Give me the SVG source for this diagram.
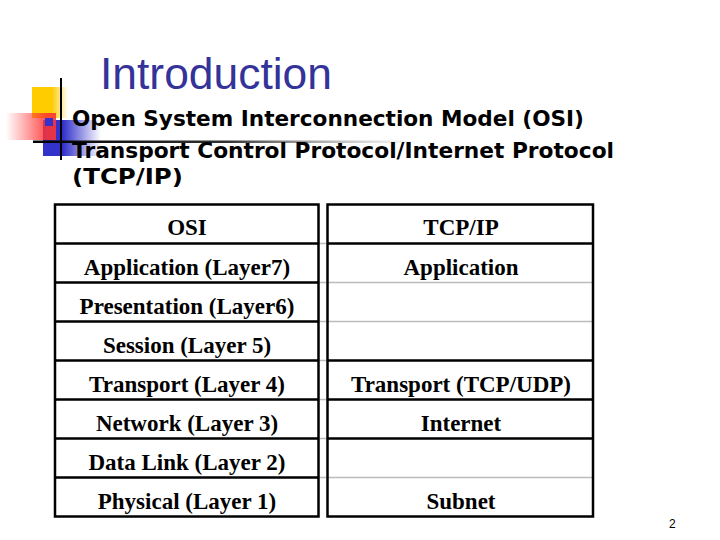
<svg xmlns="http://www.w3.org/2000/svg" width="720" height="540" viewBox="0 0 720 540">
<defs>
<linearGradient id="gYel" x1="0" y1="0" x2="1" y2="0"><stop offset="0" stop-color="#FFCC00"/><stop offset="0.55" stop-color="#FFCC00"/><stop offset="1" stop-color="#FFCC00" stop-opacity="0"/></linearGradient>
<linearGradient id="gBlue" x1="0" y1="0" x2="1" y2="0"><stop offset="0" stop-color="#3333CC"/><stop offset="0.35" stop-color="#3333CC"/><stop offset="1" stop-color="#3333CC" stop-opacity="0"/></linearGradient>
<linearGradient id="gRed" x1="0" y1="0" x2="1" y2="0"><stop offset="0" stop-color="#FF3333" stop-opacity="0"/><stop offset="0.8" stop-color="#FF3333" stop-opacity="0.85"/><stop offset="1" stop-color="#FF3333" stop-opacity="0.9"/></linearGradient>
<linearGradient id="gLine" x1="0" y1="0" x2="1" y2="0"><stop offset="0" stop-color="#000"/><stop offset="0.5" stop-color="#333"/><stop offset="1" stop-color="#999" stop-opacity="0"/></linearGradient>
<style>
.title{font-family:"Liberation Sans",Arial,sans-serif;font-size:45px;fill:#333399}
.bul{font-family:"DejaVu Sans",Verdana,sans-serif;font-weight:bold;font-size:21px;fill:#000}
.cell{font-family:"Liberation Serif","Times New Roman",serif;font-weight:bold;font-size:23px;fill:#000;text-anchor:middle}
.thick{stroke:#000;stroke-width:2.5;fill:none}
.thin{stroke:#bbb;stroke-width:1.5;fill:none}
.pg{font-family:"Liberation Sans",Arial,sans-serif;font-size:12px;fill:#000}
</style>
</defs>
<rect width="720" height="540" fill="#fff"/>
<g id="decoration">
<rect x="32" y="87" width="36" height="31" fill="url(#gYel)"/>
<rect x="43" y="120" width="58" height="36" fill="url(#gBlue)"/>
<rect x="6" y="113" width="50" height="27" fill="url(#gRed)"/>
<rect x="45" y="118" width="8" height="8" fill="#3333CC"/>
<line x1="61" y1="78" x2="61" y2="160" stroke="#000" stroke-width="2"/>
<rect x="33" y="140.5" width="390" height="2.5" fill="url(#gLine)"/>
</g>
<g id="title"><text class="title" x="100" y="89" textLength="232" lengthAdjust="spacingAndGlyphs">Introduction</text></g>
<g id="bullets">
<text class="bul" x="72" y="126" textLength="512" lengthAdjust="spacingAndGlyphs">Open System Interconnection Model (OSI)</text>
<text class="bul" x="72" y="157.5" textLength="542" lengthAdjust="spacingAndGlyphs">Transport Control Protocol/Internet Protocol</text>
<text class="bul" x="72" y="184" textLength="111" lengthAdjust="spacingAndGlyphs">(TCP/IP)</text>
</g>
<g id="osi-table">
<path class="thin" d="M319 243.5H326M319 282.5H326M319 321.5H326M319 360.5H326M319 399.5H326M319 438.5H326M319 477.5H326"/>
<rect class="thick" x="55" y="204.5" width="263.5" height="312"/>
<path class="thick" d="M55 243.5H318.5M55 282.5H318.5M55 321.5H318.5M55 360.5H318.5M55 399.5H318.5M55 438.5H318.5M55 477.5H318.5"/>
<text class="cell" x="187" y="235">OSI</text>
<text class="cell" x="187" y="274.5">Application (Layer7)</text>
<text class="cell" x="187" y="313.5">Presentation (Layer6)</text>
<text class="cell" x="187" y="352.5">Session (Layer 5)</text>
<text class="cell" x="187" y="391.5">Transport (Layer 4)</text>
<text class="cell" x="187" y="430.5">Network (Layer 3)</text>
<text class="cell" x="187" y="469.5">Data Link (Layer 2)</text>
<text class="cell" x="187" y="508.5">Physical (Layer 1)</text>
</g>
<g id="tcpip-table">
<path class="thin" d="M327.5 282.5H592.5M327.5 321.5H592.5M327.5 477.5H592.5"/>
<rect class="thick" x="327.5" y="204.5" width="265.5" height="312"/>
<path class="thick" d="M327.5 243.5H592.5M327.5 360.5H592.5M327.5 399.5H592.5M327.5 438.5H592.5"/>
<text class="cell" x="461" y="235">TCP/IP</text>
<text class="cell" x="461" y="274.5">Application</text>
<text class="cell" x="461" y="391.5">Transport (TCP/UDP)</text>
<text class="cell" x="461" y="430.5">Internet</text>
<text class="cell" x="461" y="508.5">Subnet</text>
</g>
<g id="connectors"></g>
<text class="pg" x="669" y="528">2</text>
</svg>
